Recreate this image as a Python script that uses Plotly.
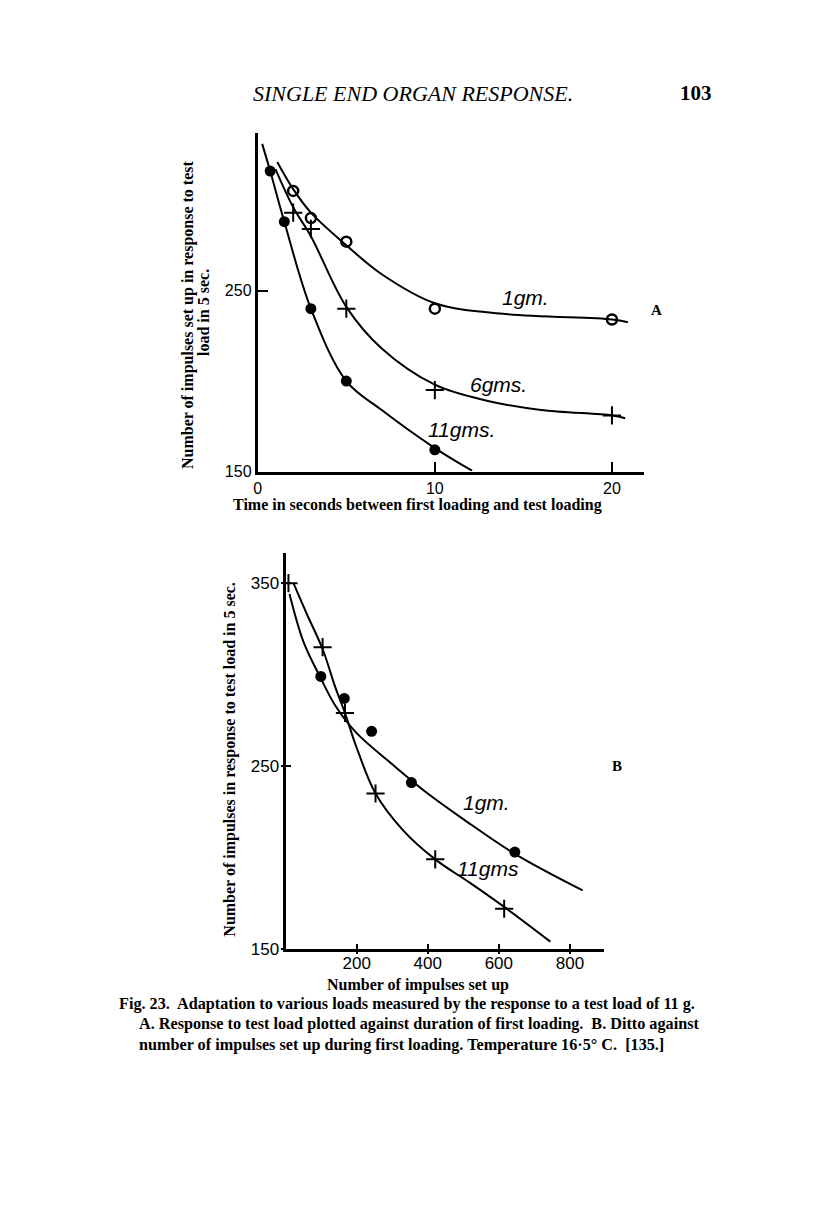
import plotly.graph_objects as go

# ---- Chart A: response vs time between first loading and test loading ----
a_time_1gm = [2, 3, 5, 10, 20]
a_resp_1gm = [305, 290, 277, 240, 234]
a_time_6gms = [2, 3, 5, 10, 20]
a_resp_6gms = [293, 284, 240, 195, 181]
a_time_11gms = [0.7, 1.5, 3, 5, 10]
a_resp_11gms = [316, 288, 240, 200, 162]

# smooth curves drawn by hand through the points
a_curve_1gm_x = [1.1, 2, 3, 5, 7, 10, 14, 20, 20.9]
a_curve_1gm_y = [321, 306, 293, 275, 259, 243, 237, 234, 232.5]
a_curve_6gms_x = [1.0, 2, 3, 5, 7, 10, 13, 16, 20, 20.75]
a_curve_6gms_y = [317, 296, 280, 241, 218, 198, 189, 184, 181, 179.5]
a_curve_11gms_x = [0.25, 0.7, 1.5, 3, 5, 7, 10, 12.1]
a_curve_11gms_y = [331, 316, 288, 240, 200, 184, 163, 150.5]

# ---- Chart B: response vs number of impulses set up ----
b_imp_1gm = [99, 165, 242, 354, 645]
b_resp_1gm = [299, 287, 269, 241, 203]
b_imp_11gms = [8, 104, 167, 253, 421, 615]
b_resp_11gms = [350, 315, 279, 235, 199, 172]

b_curve_1gm_x = [11, 50, 99, 140, 200, 300, 400, 500, 645, 836]
b_curve_1gm_y = [344, 318, 298, 283, 268, 251, 235, 221, 202, 182]
b_curve_11gms_x = [22, 60, 104, 140, 167, 200, 253, 330, 421, 520, 615, 745]
b_curve_11gms_y = [350, 333, 314, 293, 279, 260, 235, 215, 199, 186, 173, 154]

# page body has an 8px margin; the shot comes out slightly squeezed vertically
OFF = 8
SY = 0.992
W, H = 800, 1190
serif = "Liberation Serif"
sans = "Liberation Sans"


def px(x):
    return (x - OFF) / W


def py(y):
    return 1 - (y / SY - OFF) / H


fig = go.Figure()

line = dict(color="black", width=2)

for cx, cy in [(a_curve_1gm_x, a_curve_1gm_y), (a_curve_6gms_x, a_curve_6gms_y),
               (a_curve_11gms_x, a_curve_11gms_y)]:
    fig.add_trace(go.Scatter(x=cx, y=cy, mode="lines", line_shape="spline",
                             line=line, xaxis="x", yaxis="y", hoverinfo="skip"))

fig.add_trace(go.Scatter(x=a_time_1gm, y=a_resp_1gm, mode="markers", name="1gm.",
                         marker=dict(symbol="circle-open", size=10, color="black",
                                     line=dict(width=2.5, color="black")),
                         xaxis="x", yaxis="y"))
fig.add_trace(go.Scatter(x=a_time_6gms, y=a_resp_6gms, mode="markers", name="6gms.",
                         marker=dict(symbol="cross-thin", size=13,
                                     line=dict(width=2, color="black")),
                         xaxis="x", yaxis="y"))
fig.add_trace(go.Scatter(x=a_time_11gms, y=a_resp_11gms, mode="markers", name="11gms.",
                         marker=dict(symbol="circle", size=11, color="black"),
                         xaxis="x", yaxis="y"))

# B curves go on the overlay axes (x3/y3), which carry the outer half of the ticks
for cx, cy in [(b_curve_1gm_x, b_curve_1gm_y), (b_curve_11gms_x, b_curve_11gms_y)]:
    fig.add_trace(go.Scatter(x=cx, y=cy, mode="lines", line_shape="spline",
                             line=line, xaxis="x3", yaxis="y3", hoverinfo="skip"))

fig.add_trace(go.Scatter(x=b_imp_1gm, y=b_resp_1gm, mode="markers", name="1gm.",
                         marker=dict(symbol="circle", size=11, color="black"),
                         xaxis="x2", yaxis="y2"))
fig.add_trace(go.Scatter(x=b_imp_11gms, y=b_resp_11gms, mode="markers", name="11gms",
                         marker=dict(symbol="cross-thin", size=13,
                                     line=dict(width=2, color="black")),
                         xaxis="x2", yaxis="y2"))

axis_common = dict(showgrid=False, zeroline=False, showline=True, linecolor="black",
                   linewidth=3, tickcolor="black", tickwidth=2)
font_a = dict(family=sans, size=16, color="black")
font_b = dict(family=sans, size=17, color="black")

b_xrange = [0, 896]
b_yrange = [150, 366.4]

fig.update_layout(
    width=W, height=H,
    margin=dict(l=0, r=0, t=0, b=0),
    paper_bgcolor="white", plot_bgcolor="rgba(0,0,0,0)",
    showlegend=False,
    xaxis=dict(domain=[px(255), px(643)], range=[0, 21.8], anchor="y",
               tickvals=[0, 10, 20], ticks="inside", ticklen=10, tickfont=font_a,
               **axis_common),
    yaxis=dict(domain=[py(471.7), py(133)], range=[150, 337], anchor="x",
               tickvals=[150, 250], ticks="inside", ticklen=10, tickfont=font_a,
               **axis_common),
    xaxis2=dict(domain=[px(283), px(603)], range=b_xrange, anchor="y2",
                tickvals=[200, 400, 600, 800], ticks="inside", ticklen=5,
                tickfont=font_b, ticklabelstandoff=-3, **axis_common),
    yaxis2=dict(domain=[py(949.3), py(553.3)], range=b_yrange, anchor="x2",
                tickvals=[150, 250, 350], ticks="inside", ticklen=5,
                tickfont=font_b, **axis_common),
    xaxis3=dict(overlaying="x2", range=b_xrange, anchor="y3", showgrid=False,
                zeroline=False, showline=False, tickvals=[200, 400, 600, 800],
                ticks="outside", ticklen=4, tickwidth=2, tickcolor="black",
                showticklabels=False),
    yaxis3=dict(overlaying="y2", range=b_yrange, anchor="x3", showgrid=False,
                zeroline=False, showline=False, tickvals=[150, 250, 350],
                ticks="outside", ticklen=4, tickwidth=2, tickcolor="black",
                showticklabels=False),
)

curve_font = dict(family=sans, size=21, color="black", style="italic")
for txt, x, y in [("1gm.", 15.1, 246), ("6gms.", 13.6, 198), ("11gms.", 11.5, 173)]:
    fig.add_annotation(text=txt, x=x, y=y, xref="x", yref="y", showarrow=False,
                       font=curve_font)
for txt, x, y in [("1gm.", 566, 230), ("11gms", 570, 194)]:
    fig.add_annotation(text=txt, x=x, y=y, xref="x2", yref="y2", showarrow=False,
                       font=curve_font)

title_font = dict(family=serif, size=16, color="black", weight="bold")
caption_font = dict(family=serif, size=16.2, color="black", weight="bold")


def note(text, x, y, font, xanchor="center", **kw):
    fig.add_annotation(text=text, x=px(x), y=py(y), xref="paper", yref="paper",
                       showarrow=False, font=font, xanchor=xanchor,
                       yanchor="middle", **kw)


note("SINGLE END ORGAN RESPONSE.", 411, 93,
     dict(family=serif, size=22, color="black", style="italic"))
note("103", 695, 93, dict(family=serif, size=21, color="black", weight="bold"))
note("A", 656, 310, dict(family=serif, size=15, color="black", weight="bold"))
note("B", 616, 766, dict(family=serif, size=15, color="black", weight="bold"))

note("Time in seconds between first loading and test loading", 416, 505, title_font)
note("Number of impulses set up in response to test", 185, 315, title_font,
     textangle=-90)
note("load in 5 sec.", 201, 313, title_font, textangle=-90)
note("Number of impulses set up", 416, 985, title_font)
note("Number of impulses in response to test load in 5 sec.", 227, 759,
     title_font, textangle=-90)

note("Fig. 23.  Adaptation to various loads measured by the response to a test load of 11 g.",
     114, 1004, caption_font, xanchor="left")
note("A. Response to test load plotted against duration of first loading.  B. Ditto against",
     134, 1024, caption_font, xanchor="left")
note("number of impulses set up during first loading. Temperature 16\u00b75\u00b0 C.  [135.]",
     134, 1045, caption_font, xanchor="left")

fig.write_html("out.html")
